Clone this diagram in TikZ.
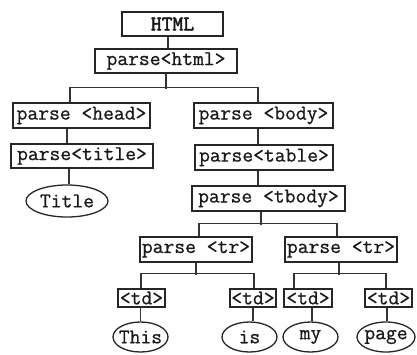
\documentclass[tikz,border=0pt]{standalone}
\usepackage{fontspec}
\usetikzlibrary{shapes.geometric}
\newfontfamily\monofam[FakeBold=0.7]{Latin Modern Mono}
\newfontfamily\monofamb[FakeBold=2]{Latin Modern Mono}
\newcommand\dfont{\fontsize{21}{21}\selectfont\monofam}
\newcommand\hfont{\fontsize{21}{21}\selectfont\monofamb}
\begin{document}
\begin{tikzpicture}[x=1pt,y=-1pt,
  box/.style={draw=black!85, line width=1.3pt, inner sep=0pt, font=\dfont, text=black!90},
  leaf/.style={ellipse, draw=black!85, line width=1.3pt, inner sep=0pt, font=\dfont, text=black!90},
  conn/.style={draw=black!80, line width=1.3pt}]
\useasboundingbox[fill=white] (0,0) rectangle (417,354);
% boxes
\node[box, minimum width=101, minimum height=24, font=\hfont] (HTML) at (172.5,24) {HTML};
\node[box, minimum width=142, minimum height=24] (html) at (166,61) {parse<html>};
\node[box, minimum width=137, minimum height=25] (head) at (81.5,115.5) {parse <head>};
\node[box, minimum width=139, minimum height=25] (body) at (263.5,115.5) {parse <body>};
\node[box, minimum width=142, minimum height=24] (title) at (82,156) {parse<title>};
\node[box, minimum width=138, minimum height=25] (table) at (264,157.5) {parse<table>};
\node[box, minimum width=153, minimum height=25] (tbody) at (268.5,198.5) {parse <tbody>};
\node[box, minimum width=112, minimum height=25] (tr1) at (196,249.5) {parse <tr>};
\node[box, minimum width=112, minimum height=25] (tr2) at (341,249.5) {parse <tr>};
\node[box, minimum width=47, minimum height=18] (td1) at (141.5,298) {<td>};
\node[box, minimum width=46, minimum height=18] (td2) at (253,298) {<td>};
\node[box, minimum width=48, minimum height=18] (td3) at (308,298) {<td>};
\node[box, minimum width=47, minimum height=18] (td4) at (388.5,298) {<td>};
% leaves
\node[leaf, minimum width=82, minimum height=32] (Title) at (67,201) {\makebox[0pt]{Title}};
\node[leaf, minimum width=55, minimum height=30] (This) at (140.5,337) {\makebox[0pt]{This}};
\node[leaf, minimum width=55, minimum height=30] (is) at (249.5,337) {\makebox[0pt]{is}};
\node[leaf, minimum width=55, minimum height=30] (my) at (310.5,337) {\makebox[0pt]{my}};
\node[leaf, minimum width=58, minimum height=30] (page) at (386,337) {\makebox[0pt]{page}};
% connectors
\draw[conn] ([xshift=2]html.north) -- ([xshift=2]html.north |- HTML.south);
\draw[conn] (html.south) -- ++(0,15);
\draw[conn] ([xshift=-11.5]head.north) -- ++(0,-15) -| ([xshift=-5.5]body.north);
\draw[conn] ([xshift=-14.5]head.south) -- ([xshift=-14.5]head.south |- title.north);
\draw[conn] ([xshift=2]Title.north |- title.south) -- ([xshift=2]Title.north);
\draw[conn] ([xshift=-5.5]body.south) -- ([xshift=-5.5]body.south |- table.north);
\draw[conn] ([xshift=-6]table.south) -- ([xshift=-6]table.south |- tbody.north);
\draw[conn] ([xshift=-7.5]tbody.south) -- ++(0,13);
\draw[conn] ([xshift=3]tr1.north) -- ++(0,-13) -| ([xshift=-4]tr2.north);
\draw[conn] (tr1.south) -- ++(0,12);
\draw[conn] ([xshift=-0.5]td1.north) -- ++(0,-15) -| ([xshift=1]td2.north);
\draw[conn] ([xshift=-2]tr2.south) -- ++(0,12);
\draw[conn] ([xshift=-14]td3.north) -- ++(0,-15) -| ([xshift=-2.5]td4.north);
\draw[conn] (This.north |- td1.south) -- (This.north);
\draw[conn] (td2.south) -- (td2.south |- is.north);
\draw[conn] ([xshift=1.5]my.north |- td3.south) -- ([xshift=1.5]my.north);
\draw[conn] ([xshift=1]page.north |- td4.south) -- ([xshift=1]page.north);
\end{tikzpicture}
\end{document}
